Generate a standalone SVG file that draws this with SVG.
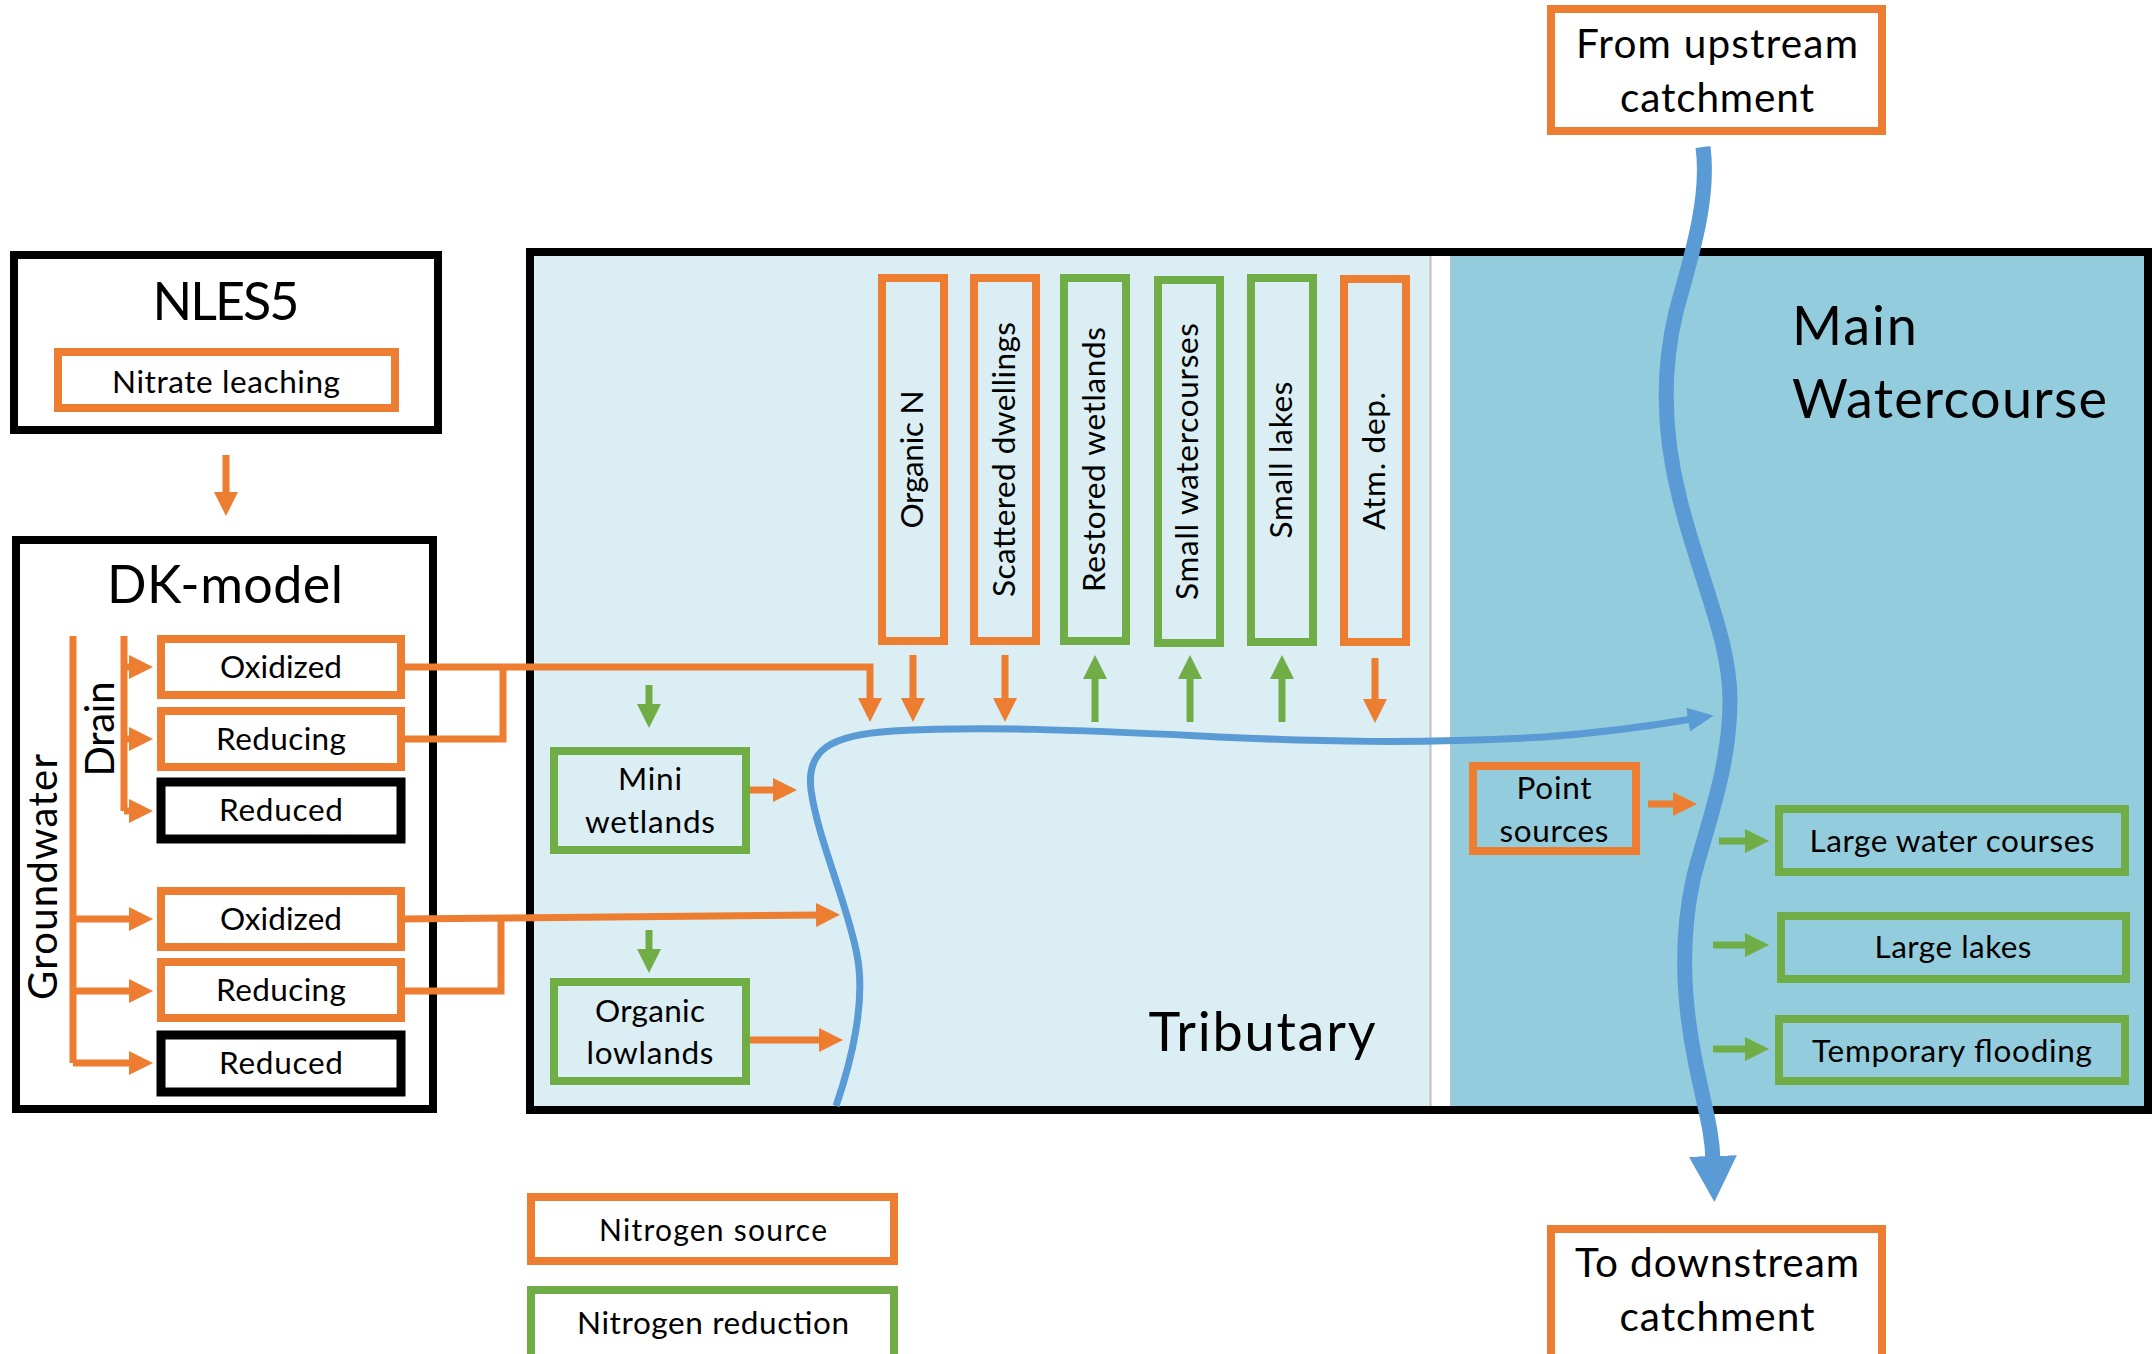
<svg xmlns="http://www.w3.org/2000/svg" width="2152" height="1354" viewBox="0 0 2152 1354">
<defs>
<style>
.t{font-family:Lato,"Liberation Sans",sans-serif;fill:#000;text-anchor:middle}
.s35{font-size:31.5px}
.o{fill:none;stroke:#ED7D31;stroke-width:8}
.g{fill:none;stroke:#70AD47;stroke-width:8}
.k{fill:none;stroke:#000;stroke-width:8}
.ow{fill:#fff;stroke:#ED7D31;stroke-width:8}
.gw{fill:#fff;stroke:#70AD47;stroke-width:8}
.kw{fill:#fff;stroke:#000;stroke-width:9}
.ol{fill:none;stroke:#ED7D31;stroke-width:7}
.gl{fill:none;stroke:#70AD47;stroke-width:7}
.oa{fill:none;stroke:#ED7D31;stroke-width:7;marker-end:url(#ao)}
.ga{fill:none;stroke:#70AD47;stroke-width:7;marker-end:url(#ag)}
</style>
<marker id="ao" markerUnits="userSpaceOnUse" markerWidth="24" markerHeight="24" refX="6" refY="12" orient="auto" viewBox="0 0 24 24"><path d="M0,0 L24,12 L0,24 z" fill="#ED7D31"/></marker>
<marker id="ag" markerUnits="userSpaceOnUse" markerWidth="24" markerHeight="24" refX="6" refY="12" orient="auto" viewBox="0 0 24 24"><path d="M0,0 L24,12 L0,24 z" fill="#70AD47"/></marker>
<marker id="ab" markerUnits="userSpaceOnUse" markerWidth="26" markerHeight="24" refX="4" refY="12" orient="auto" viewBox="0 0 26 24"><path d="M0,0 L26,12 L0,24 z" fill="#5B9BD5"/></marker>
<marker id="abig" markerUnits="userSpaceOnUse" markerWidth="46" markerHeight="48" refX="4" refY="24" orient="auto" viewBox="0 0 46 48"><path d="M0,0 L46,24 L0,48 z" fill="#5B9BD5"/></marker>
</defs>
<rect x="0" y="0" width="2152" height="1354" fill="#fff"/>

<g id="catchment-area">
<rect x="530" y="252" width="900" height="858" fill="#DAEEF3"/>
<rect x="1430" y="252" width="20" height="858" fill="#fff"/>
<line x1="1430.5" y1="252" x2="1430.5" y2="1110" stroke="#BFBFBF" stroke-width="2"/>
<rect x="1450" y="252" width="698" height="858" fill="#93CDDD"/>
<line x1="1450.5" y1="252" x2="1450.5" y2="1110" stroke="#BFBFBF" stroke-width="1"/>
<rect x="530" y="252" width="1618" height="858" class="k"/>
<text class="t" font-size="54" x="1262" y="1051" textLength="227">Tributary</text>
<text class="t" font-size="54" x="1792" y="345" style="text-anchor:start" textLength="125">Main</text>
<text class="t" font-size="54" x="1792" y="418" style="text-anchor:start" textLength="315">Watercourse</text>
</g>

<g id="nles5">
<rect x="14" y="255" width="424" height="175" class="k"/>
<text class="t" font-size="52" x="226" y="320" textLength="147">NLES5</text>
<rect x="58" y="352" width="337" height="56" class="o" stroke-width="7"/>
<text class="t s35" x="226" y="393" textLength="228">Nitrate leaching</text>
</g>

<g id="dk-model">
<rect x="16" y="540" width="417" height="569" class="k"/>
<text class="t" font-size="52" x="225" y="603" textLength="236">DK-model</text>
<text class="t" font-size="40" transform="translate(57,877) rotate(-90)" textLength="246">Groundwater</text>
<text class="t" font-size="40" transform="translate(114,729) rotate(-90)" textLength="95">Drain</text>
</g>

<g id="drain-oxidized"><rect x="161" y="639" width="240" height="56" class="ow"/><text class="t s35" x="281" y="678" textLength="122">Oxidized</text></g>
<g id="drain-reducing"><rect x="161" y="711" width="240" height="56" class="ow"/><text class="t s35" x="281" y="750" textLength="130">Reducing</text></g>
<g id="drain-reduced"><rect x="161" y="782" width="240" height="57" class="kw"/><text class="t s35" x="281" y="821" textLength="124">Reduced</text></g>
<g id="gw-oxidized"><rect x="161" y="891" width="240" height="56" class="ow"/><text class="t s35" x="281" y="930" textLength="122">Oxidized</text></g>
<g id="gw-reducing"><rect x="161" y="962" width="240" height="56" class="ow"/><text class="t s35" x="281" y="1001" textLength="130">Reducing</text></g>
<g id="gw-reduced"><rect x="161" y="1035" width="240" height="57" class="kw"/><text class="t s35" x="281" y="1074" textLength="124">Reduced</text></g>

<g id="organic-n"><rect x="882" y="278" width="62" height="363" class="o" stroke-width="9"/><text class="t s35" transform="translate(923,459.5) rotate(-90)" textLength="138">Organic N</text></g>
<g id="scattered-dwellings"><rect x="974" y="278" width="62" height="363" class="o" stroke-width="9"/><text class="t s35" transform="translate(1015,459.5) rotate(-90)" textLength="275">Scattered dwellings</text></g>
<g id="restored-wetlands"><rect x="1064" y="278" width="62" height="363" class="g" stroke-width="9"/><text class="t s35" transform="translate(1105,459.5) rotate(-90)" textLength="265">Restored wetlands</text></g>
<g id="small-watercourses"><rect x="1158" y="280" width="62" height="363" class="g" stroke-width="9"/><text class="t s35" transform="translate(1198,461.5) rotate(-90)" textLength="277">Small watercourses</text></g>
<g id="small-lakes"><rect x="1251" y="278" width="62" height="364" class="g" stroke-width="9"/><text class="t s35" transform="translate(1292,460) rotate(-90)" textLength="157">Small lakes</text></g>
<g id="atm-dep"><rect x="1344" y="279" width="62" height="363" class="o" stroke-width="9"/><text class="t s35" transform="translate(1385,461) rotate(-90)" textLength="138">Atm. dep.</text></g>

<g id="mini-wetlands"><rect x="554" y="751" width="192" height="99" class="g" stroke-width="7"/><text class="t s35" x="650" y="790" textLength="64">Mini</text><text class="t s35" x="650" y="833" textLength="130">wetlands</text></g>
<g id="organic-lowlands"><rect x="554" y="982" width="192" height="99" class="g" stroke-width="7"/><text class="t s35" x="650" y="1022" textLength="110">Organic</text><text class="t s35" x="650" y="1064" textLength="127">lowlands</text></g>

<g id="point-sources"><rect x="1473" y="766" width="163" height="85" class="o" stroke-width="7"/><text class="t s35" x="1554" y="799" textLength="75">Point</text><text class="t s35" x="1554" y="842" textLength="109">sources</text></g>
<g id="large-water-courses"><rect x="1779" y="809" width="346" height="63" class="g"/><text class="t s35" x="1952" y="852" textLength="285">Large water courses</text></g>
<g id="large-lakes"><rect x="1781" y="916" width="345" height="63" class="g"/><text class="t s35" x="1953" y="958" textLength="157">Large lakes</text></g>
<g id="temporary-flooding"><rect x="1779" y="1019" width="346" height="62" class="g"/><text class="t s35" x="1952" y="1062" textLength="280">Temporary flooding</text></g>

<g id="upstream"><rect x="1551" y="9" width="331" height="122" class="ow"/><text class="t" font-size="40.5" x="1717" y="58" textLength="282">From upstream</text><text class="t" font-size="40.5" x="1717" y="112" textLength="194">catchment</text></g>
<g id="downstream"><rect x="1551" y="1229" width="331" height="130" class="ow"/><text class="t" font-size="40.5" x="1717" y="1277" textLength="284">To downstream</text><text class="t" font-size="40.5" x="1717" y="1331" textLength="195">catchment</text></g>

<g id="legend-source"><rect x="531" y="1197" width="363" height="64" class="ow"/><text class="t" font-size="30" x="713" y="1241" textLength="228">Nitrogen source</text></g>
<g id="legend-reduction"><rect x="531" y="1290" width="363" height="70" class="gw"/><text class="t" font-size="31.5" x="713" y="1334" textLength="272">Nitrogen reduction</text></g>

<g id="connectors">
<path class="oa" d="M226,455 V498"/>
<path class="ol" d="M73,636 V1063"/>
<path class="oa" d="M73,919 H135"/>
<path class="oa" d="M73,991 H135"/>
<path class="oa" d="M73,1063 H135"/>
<path class="ol" d="M124,636 V811"/>
<path class="oa" d="M124,667 H135"/>
<path class="oa" d="M124,739 H135"/>
<path class="oa" d="M124,811 H135"/>
<path class="ol" d="M405,739 H503 V667"/>
<path class="oa" d="M401,667 H870 V704"/>
<path class="ol" d="M405,991 H501 V918"/>
<path class="oa" d="M401,919 L822,915"/>
<path class="oa" d="M913,655 V704"/>
<path class="oa" d="M1005,655 V704"/>
<path class="ga" d="M1095,722 V673"/>
<path class="ga" d="M1190,722 V673"/>
<path class="ga" d="M1282,722 V673"/>
<path class="oa" d="M1375,658 V705"/>
<path class="ga" d="M649,685 V710"/>
<path class="ga" d="M649,930 V955"/>
<path class="oa" d="M750,790 H779"/>
<path class="oa" d="M750,1040 H825"/>
<path class="oa" d="M1648,804 H1679"/>
<path class="ga" d="M1719,841 H1751"/>
<path class="ga" d="M1713,945 H1751"/>
<path class="ga" d="M1713,1049 H1751"/>
<path fill="none" stroke="#5B9BD5" stroke-width="7" marker-end="url(#ab)" d="M836,1106 C852,1060 866,1000 857,955 C848,905 818,840 811,790 C806,750 830,735 893,731 C980,726 1080,730 1200,736 C1320,742 1420,744 1544,737 C1600,733 1650,726 1692,719"/>
<path fill="none" stroke="#5B9BD5" stroke-width="15" marker-end="url(#abig)" d="M1703,147 C1710,200 1690,260 1676,312 C1662,370 1662,430 1680,500 C1700,580 1730,640 1730,700 C1730,770 1705,830 1693,880 C1680,940 1683,1000 1695,1060 C1705,1110 1712,1130 1713,1160"/>
</g>
</svg>
